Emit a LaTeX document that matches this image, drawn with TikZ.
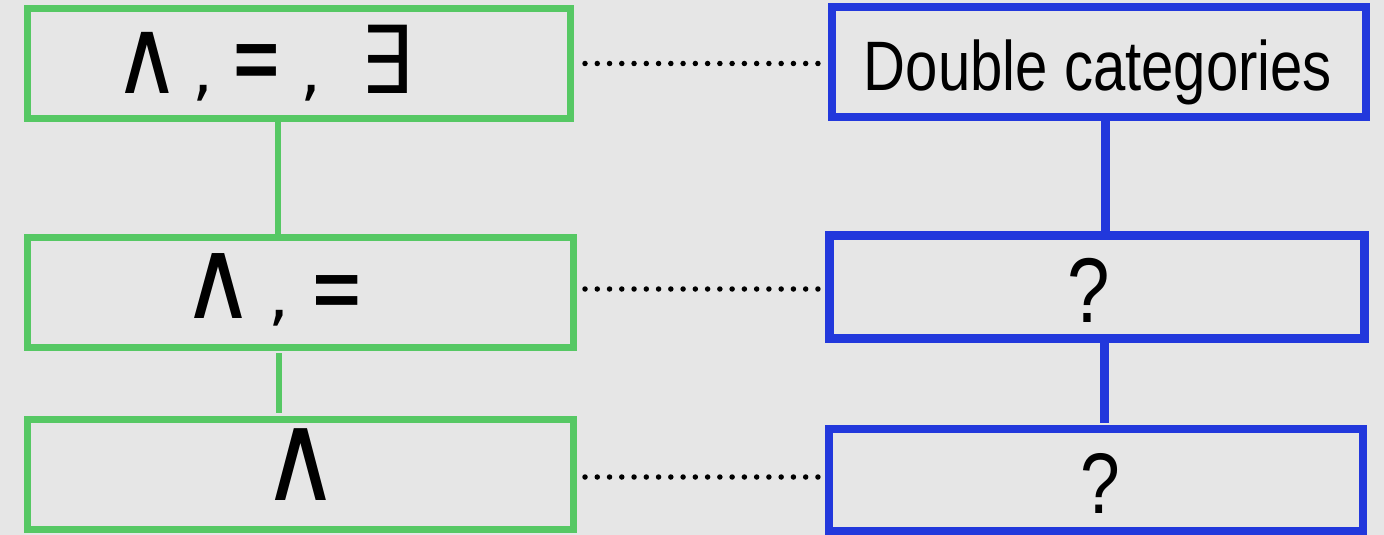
\documentclass[tikz,border=0pt]{standalone}
\usepackage{graphicx}
\usepackage{fontspec}
\setmainfont{Liberation Sans}
\newfontfamily\symf{DejaVu Sans}
\newfontfamily\hand[FakeStretch=0.83]{Liberation Sans}
\definecolor{bg}{RGB}{230,230,230}
\definecolor{gr}{RGB}{86,200,100}
\definecolor{bl}{RGB}{34,56,220}
\newcommand\glyphc[1]{\makebox[0pt][c]{#1}}
\begin{document}
\begin{tikzpicture}[x=1pt,y=-1pt,
  gbox/.style={draw=gr,line width=7pt,rectangle,inner sep=0pt,outer sep=0pt},
  bbox/.style={draw=bl,line width=8.5pt,rectangle,inner sep=0pt,outer sep=0pt},
  gline/.style={draw=gr,line width=6pt},
  bline/.style={draw=bl,line width=9pt},
  dotline/.style={line width=5.5pt,line cap=round,dash pattern=on 0pt off 12.26pt},
  sym/.style={inner sep=0pt,anchor=base west,font=\symf\fontsize{66}{66}\selectfont},
  hw/.style={inner sep=0pt,anchor=base,font=\hand\fontsize{70}{70}\selectfont}
]
\fill[bg] (0,0) rectangle (1384,535);
\useasboundingbox (0,0) rectangle (1384,535);

% boxes
\node[gbox,minimum width=543.5pt,minimum height=109.6pt] (g1) at (298.75,63.5) {};
\node[gbox,minimum width=546pt,minimum height=110pt] (g2) at (300,292.5) {};
\node[gbox,minimum width=546pt,minimum height=110pt] (g3) at (300,474.5) {};
\node[bbox,minimum width=534pt,minimum height=110pt] (b1) at (1099,62) {};
\node[bbox,minimum width=535pt,minimum height=103.2pt] (b2) at (1097,287.1) {};
\node[bbox,minimum width=534pt,minimum height=102.5pt] (b3) at (1096,480.25) {};

% texts
\node[sym] (t1) at (147,93) {\glyphc{\scalebox{1.4}[1.6]{∧}}\hspace{56pt}\glyphc{,}\hspace{53.5pt}\glyphc{\raisebox{-2pt}{\scalebox{0.95}[1.7]{=}}}\hspace{54.5pt}\glyphc{,}\hspace{75.5pt}\glyphc{\scalebox{1.25}[1.42]{∃}}};
\node[sym] (t2) at (218,318) {\glyphc{\scalebox{1.53}[1.7]{∧}}\hspace{60.5pt}\glyphc{,}\hspace{58pt}\glyphc{\raisebox{-5pt}{\scalebox{1}[1.6]{=}}}};
\node[sym] (t3) at (300.5,500) {\glyphc{\scalebox{1.63}[1.88]{∧}}};
\node[hw] (d1) at (1098,90) {Double categories};
\node[hw,font=\hand\fontsize{92}{92}\selectfont] (q2) at (1089,322) {?};
\node[hw,font=\hand\fontsize{86}{86}\selectfont] (q3) at (1100,513) {?};

% vertical connectors
\draw[gline] ([xshift=-20.75pt]g1.south) -- ([xshift=-20.75pt]g1.south |- g2.north);
\draw[gline,shorten <=5.5pt,shorten >=6.5pt] ([xshift=-20.6pt]g2.south) -- ([xshift=-20.6pt]g2.south |- g3.north);
\draw[bline] ([xshift=6.5pt]b1.south) -- ([xshift=6.5pt]b1.south |- b2.north);
\draw[bline,shorten <=4.3pt,shorten >=6pt] ([xshift=7.5pt]b2.south) -- ([xshift=7.5pt]b2.south |- b3.north);

% dotted links
\draw[dotline,shorten <=14.5pt,shorten >=14pt] (g1.east) -- (g1.east -| b1.west);
\draw[dotline,shorten <=12pt,shorten >=11.5pt] ([yshift=3.5pt]g2.east) -- ([yshift=3.5pt]g2.east -| b2.west);
\draw[dotline,shorten <=12pt,shorten >=11pt] ([yshift=-2.5pt]g3.east) -- ([yshift=-2.5pt]g3.east -| b3.west);
\end{tikzpicture}
\end{document}
